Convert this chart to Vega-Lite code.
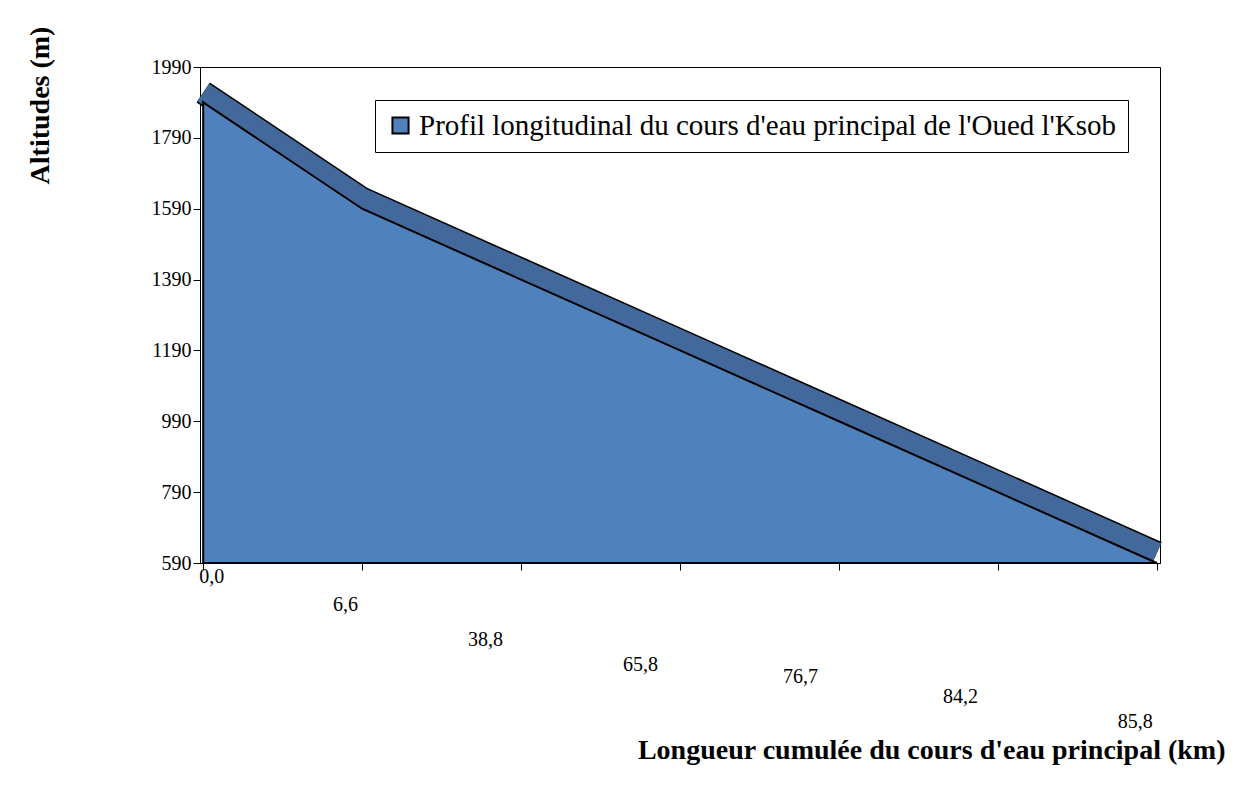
{
  "$schema": "https://vega.github.io/schema/vega-lite/v6.json",
  "width": 960,
  "height": 496,
  "autosize": "none",
  "padding": {"left": 200, "top": 67, "right": 75, "bottom": 228},
  "background": "white",
  "config": {
    "font": "Liberation Serif",
    "view": {"stroke": "#000", "strokeWidth": 1}
  },
  "data": {
    "values": [
      {"km": "0,0", "alt": 1890, "serie": "Profil longitudinal du cours d'eau principal de l'Oued l'Ksob"},
      {"km": "6,6", "alt": 1590, "serie": "Profil longitudinal du cours d'eau principal de l'Oued l'Ksob"},
      {"km": "38,8", "alt": 1390, "serie": "Profil longitudinal du cours d'eau principal de l'Oued l'Ksob"},
      {"km": "65,8", "alt": 1190, "serie": "Profil longitudinal du cours d'eau principal de l'Oued l'Ksob"},
      {"km": "76,7", "alt": 990, "serie": "Profil longitudinal du cours d'eau principal de l'Oued l'Ksob"},
      {"km": "84,2", "alt": 790, "serie": "Profil longitudinal du cours d'eau principal de l'Oued l'Ksob"},
      {"km": "85,8", "alt": 590, "serie": "Profil longitudinal du cours d'eau principal de l'Oued l'Ksob"}
    ]
  },
  "encoding": {
    "x": {
      "field": "km",
      "type": "ordinal",
      "sort": null,
      "scale": {"type": "point", "padding": 0.02},
      "axis": {
        "labelAngle": 0,
        "labelFontSize": 20,
        "labelColor": "#000",
        "labelFont": "Liberation Serif",
        "domainColor": "#000",
        "tickColor": "#000",
        "tickSize": 7,
        "labelPadding": {"expr": "datum.value === '0,0' ? -4 : datum.value === '6,6' ? 24 : datum.value === '38,8' ? 59 : datum.value === '65,8' ? 84 : datum.value === '76,7' ? 96 : datum.value === '84,2' ? 116 : 141"},
        "labelOffset": {"expr": "datum.value === '0,0' ? 8 : datum.value === '6,6' ? -17 : datum.value === '38,8' ? -36 : datum.value === '65,8' ? -40 : datum.value === '76,7' ? -39 : datum.value === '84,2' ? -38 : -22"},
        "title": "Longueur cumulée du cours d'eau principal (km)",
        "titleFontSize": 28,
        "titleFontWeight": "bold",
        "titleFont": "Liberation Serif",
        "titleColor": "#000",
        "titleAnchor": "end",
        "titleAlign": "right",
        "titleX": 1025,
        "titleY": 173
      }
    },
    "y": {
      "field": "alt",
      "type": "quantitative",
      "scale": {"domain": [590, 1990], "nice": false, "zero": false},
      "axis": {
        "values": [590, 790, 990, 1190, 1390, 1590, 1790, 1990],
        "format": "d",
        "grid": false,
        "labelFontSize": 20,
        "labelColor": "#000",
        "labelFont": "Liberation Serif",
        "domainColor": "#000",
        "tickColor": "#000",
        "tickSize": 7,
        "title": "Altitudes (m)",
        "titleFontSize": 28,
        "titleFontWeight": "bold",
        "titleFont": "Liberation Serif",
        "titleColor": "#000",
        "titleAngle": -90,
        "titleAlign": "center",
        "titleBaseline": "middle",
        "titleX": -160,
        "titleY": 38
      }
    }
  },
  "layer": [
    {
      "mark": {"type": "line", "color": "#000", "strokeWidth": 24, "yOffset": -10, "strokeJoin": "miter"},
      "encoding": {}
    },
    {
      "mark": {"type": "line", "color": "#43699C", "strokeWidth": 21, "yOffset": -10, "strokeJoin": "miter"},
      "encoding": {}
    },
    {
      "mark": {"type": "area", "stroke": "#000", "strokeWidth": 2, "opacity": 1},
      "encoding": {
        "y2": {"datum": 590},
        "color": {
          "field": "serie",
          "type": "nominal",
          "scale": {"range": ["#4F81BD"]},
          "legend": {
            "title": null,
            "orient": "none",
            "legendX": 175,
            "legendY": 33,
            "symbolType": "square",
            "symbolSize": 260,
            "symbolStrokeColor": "#000",
            "symbolStrokeWidth": 2,
            "symbolOpacity": 1,
            "labelFontSize": 29,
            "labelFont": "Liberation Serif",
            "labelColor": "#000",
            "labelLimit": 900,
            "labelOffset": 4,
            "strokeColor": "#000",
            "padding": 11,
            "fillColor": "white"
          }
        }
      }
    }
  ]
}
